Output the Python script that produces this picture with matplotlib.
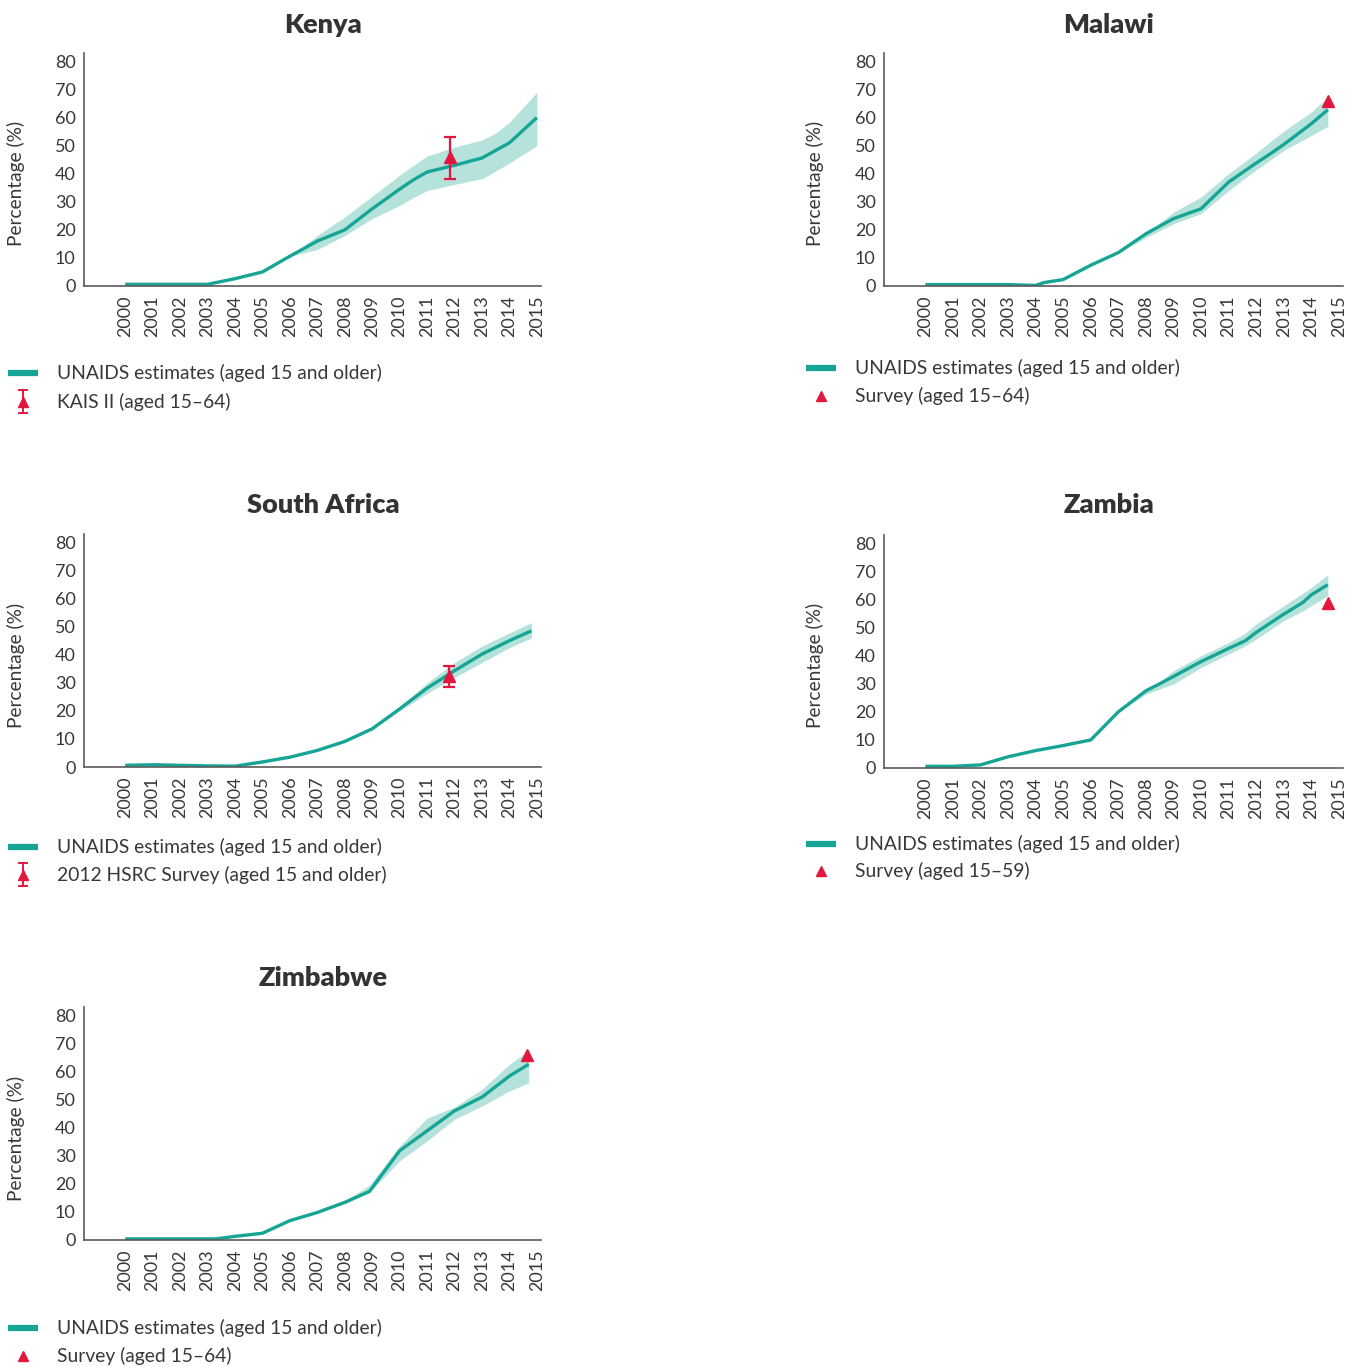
import matplotlib
matplotlib.use("Agg")
import matplotlib.pyplot as plt
from matplotlib.lines import Line2D

plt.rcParams['font.family'] = ['Lato', 'DejaVu Sans']

TEAL = '#16a595'
BAND = '#b5e3dc'
RED = '#e3173e'
TEXT = '#383838'
AXIS = '#5a5a5a'

W, H = 1347, 1367

YEARS = list(range(2000, 2016))
Y_TICKS = list(range(0, 81, 10))
LINE_LABEL = 'UNAIDS estimates (aged 15 and older)'

# ---- Kenya ----
kenya_years = [2000, 2003, 2004, 2005, 2006, 2007, 2008, 2009, 2010, 2010.5, 2011, 2012, 2013, 2013.5, 2014, 2015]
kenya_est = [0.6, 0.6, 2.6, 5.0, 10.6, 16.0, 20.0, 27.5, 34.5, 37.8, 40.6, 43.0, 45.6, 48.3, 51.0, 60.0]
kenya_high = [0.6, 0.6, 2.6, 5.0, 10.6, 18.0, 24.6, 32.0, 39.5, 43.0, 46.3, 49.5, 52.0, 54.5, 58.3, 69.0]
kenya_low = [0.6, 0.6, 2.6, 5.0, 10.6, 13.0, 18.0, 24.0, 28.7, 31.5, 34.0, 36.2, 38.2, 41.0, 43.8, 50.0]
kenya_survey = {'year': 2011.85, 'value': 46.0, 'low': 38.0, 'high': 53.0}
kenya_survey_label = 'KAIS II (aged 15\u201364)'

# ---- Malawi ----
malawi_years = [2000, 2003, 2004, 2004.3, 2005, 2006, 2007, 2008, 2008.7, 2009, 2010, 2011, 2012, 2012.5, 2013, 2014, 2014.6]
malawi_est = [0.5, 0.5, 0.2, 1.2, 2.3, 7.4, 11.9, 18.6, 22.4, 24.0, 27.5, 37.0, 43.8, 47.0, 50.4, 57.8, 62.8]
malawi_high = [0.5, 0.5, 0.2, 1.2, 2.3, 7.4, 11.9, 18.6, 24.0, 26.3, 31.7, 40.0, 47.4, 51.3, 55.2, 62.0, 67.3]
malawi_low = [0.5, 0.5, 0.2, 1.2, 2.3, 7.4, 11.9, 17.2, 20.7, 22.2, 25.8, 34.0, 41.4, 44.8, 48.3, 53.6, 56.9]
malawi_survey = {'year': 2014.6, 'value': 65.8}
malawi_survey_label = 'Survey (aged 15\u201364)'

# ---- South Africa ----
sa_years = [2000, 2001, 2002, 2003, 2004, 2005, 2006, 2007, 2008, 2009, 2010, 2011, 2012, 2013, 2014, 2014.8]
sa_est = [0.6, 0.8, 0.6, 0.4, 0.3, 1.8, 3.5, 5.9, 9.1, 13.6, 20.7, 28.1, 34.3, 40.2, 45.0, 48.5]
sa_high = [0.6, 0.8, 0.6, 0.4, 0.3, 1.8, 3.5, 5.9, 9.1, 13.6, 21.3, 30.0, 37.2, 43.1, 47.8, 51.4]
sa_low = [0.6, 0.8, 0.6, 0.4, 0.3, 1.8, 3.5, 5.9, 9.1, 13.6, 20.0, 26.2, 31.9, 37.2, 42.5, 46.0]
sa_survey = {'year': 2011.8, 'value': 32.5, 'low': 28.5, 'high': 36.0}
sa_survey_label = '2012 HSRC Survey (aged 15 and older)'

# ---- Zambia ----
zambia_years = [2000, 2001, 2002, 2003, 2004, 2005, 2006, 2007, 2008, 2008.6, 2009, 2010, 2011, 2011.6, 2012, 2013, 2013.7, 2014, 2014.6]
zambia_est = [0.6, 0.6, 1.1, 4.0, 6.2, 8.0, 10.0, 20.0, 27.5, 30.5, 32.6, 37.9, 42.6, 45.3, 48.3, 54.8, 59.0, 61.7, 65.3]
zambia_high = [0.6, 0.6, 1.1, 4.0, 6.2, 8.0, 10.0, 20.0, 27.5, 31.5, 34.7, 40.0, 44.7, 48.0, 51.3, 57.8, 62.3, 64.3, 68.8]
zambia_low = [0.6, 0.6, 1.1, 4.0, 6.2, 8.0, 10.0, 20.0, 26.3, 28.5, 29.9, 35.8, 40.6, 43.5, 45.9, 52.5, 56.0, 57.8, 61.4]
zambia_survey = {'year': 2014.6, 'value': 58.6}
zambia_survey_label = 'Survey (aged 15\u201359)'

# ---- Zimbabwe ----
zim_years = [2000, 2003, 2003.3, 2004, 2005, 2006, 2007, 2008, 2008.9, 2010, 2011, 2012, 2013, 2014, 2014.7]
zim_est = [0.4, 0.4, 0.4, 1.3, 2.4, 6.9, 9.8, 13.4, 17.3, 31.8, 38.9, 46.0, 50.9, 58.4, 62.6]
zim_high = [0.4, 0.4, 0.4, 1.3, 2.4, 6.9, 9.8, 14.0, 19.5, 33.5, 43.4, 47.4, 53.7, 62.6, 67.5]
zim_low = [0.4, 0.4, 0.4, 1.3, 2.4, 6.9, 9.8, 13.0, 17.0, 28.2, 35.3, 43.0, 47.7, 53.1, 56.0]
zim_survey = {'year': 2014.65, 'value': 65.8}
zim_survey_label = 'Survey (aged 15\u201364)'


def px_rect(left, top, right, bottom):
    return [left / W, 1 - bottom / H, (right - left) / W, (bottom - top) / H]


def fx(x):
    return x / W


def fy(y):
    return 1 - y / H


fig = plt.figure(figsize=(W / 100, H / 100), dpi=100)
fig.patch.set_facecolor('white')


def draw_panel(rect, title, title_xy, ylabel_xy, years, est, low, high, survey,
               legend_x, legend_ys, survey_label):
    ax = fig.add_axes(px_rect(*rect))
    ax.fill_between(years, low, high, color=BAND, lw=0, zorder=1)
    ax.plot(years, est, color=TEAL, lw=2.4, zorder=2, solid_capstyle='butt')
    has_err = 'low' in survey
    if has_err:
        ax.errorbar([survey['year']], [survey['value']],
                    yerr=[[survey['value'] - survey['low']], [survey['high'] - survey['value']]],
                    fmt='^', color=RED, ms=8, capsize=4.5, elinewidth=1.6,
                    capthick=1.6, zorder=4)
    else:
        ax.plot([survey['year']], [survey['value']], marker='^', ls='none',
                color=RED, ms=8, zorder=4)

    ax.set_xlim(1998.5, 2015.15)
    ax.set_ylim(0, 83)
    ax.set_xticks(YEARS)
    ax.set_xticklabels([str(y) for y in YEARS], rotation=90, va='top')
    ax.set_yticks(Y_TICKS)
    ax.tick_params(length=0, labelsize=13, colors=TEXT)
    ax.tick_params(axis='x', pad=7)
    ax.tick_params(axis='y', pad=6)
    for side in ('top', 'right'):
        ax.spines[side].set_visible(False)
    for side in ('left', 'bottom'):
        ax.spines[side].set_color(AXIS)
        ax.spines[side].set_linewidth(1.2)
    ax.set_facecolor('none')

    fig.text(fx(title_xy[0]), fy(title_xy[1]), title, ha='center', va='center',
             fontsize=19.5, fontweight='heavy', color='#333333')
    fig.text(fx(ylabel_xy[0]), fy(ylabel_xy[1]), 'Percentage (%)', rotation=90,
             ha='center', va='center', fontsize=13.8, color=TEXT)

    # legend
    cx = legend_x + 15
    fig.add_artist(Line2D([fx(legend_x), fx(legend_x + 30)], [fy(legend_ys[0])] * 2,
                          color=TEAL, lw=4.5, solid_capstyle='butt'))
    fig.text(fx(legend_x + 49), fy(legend_ys[0]), LINE_LABEL, ha='left', va='center',
             fontsize=13.9, color=TEXT)
    if has_err:
        y0 = legend_ys[1]
        fig.add_artist(Line2D([fx(cx), fx(cx)], [fy(y0 - 12), fy(y0 + 11)],
                              color=RED, lw=1.4))
        for yy in (y0 - 12, y0 + 11):
            fig.add_artist(Line2D([fx(cx - 4), fx(cx + 4)], [fy(yy)] * 2,
                                  color=RED, lw=1.4))
    fig.add_artist(Line2D([fx(cx)], [fy(legend_ys[1])], marker='^', ls='none',
                          color=RED, ms=7.5))
    fig.text(fx(legend_x + 49), fy(legend_ys[1]), survey_label, ha='left', va='center',
             fontsize=13.9, color=TEXT)
    return ax


draw_panel((84, 53, 541, 286), 'Kenya', (323, 25), (16, 183),
           kenya_years, kenya_est, kenya_low, kenya_high, kenya_survey,
           8, (373, 402), kenya_survey_label)
draw_panel((884, 53, 1343, 286), 'Malawi', (1109, 25), (815, 183),
           malawi_years, malawi_est, malawi_low, malawi_high, malawi_survey,
           806, (368, 396), malawi_survey_label)
draw_panel((84, 534, 541, 767), 'South Africa', (323, 505), (16, 665),
           sa_years, sa_est, sa_low, sa_high, sa_survey,
           8, (847, 875), sa_survey_label)
draw_panel((884, 535, 1343, 768), 'Zambia', (1109, 505), (815, 665),
           zambia_years, zambia_est, zambia_low, zambia_high, zambia_survey,
           806, (844, 871), zambia_survey_label)
draw_panel((84, 1007, 541, 1240), 'Zimbabwe', (323, 978), (16, 1138),
           zim_years, zim_est, zim_low, zim_high, zim_survey,
           8, (1328, 1356), zim_survey_label)

fig.savefig('out.png', dpi=100, facecolor='white')
